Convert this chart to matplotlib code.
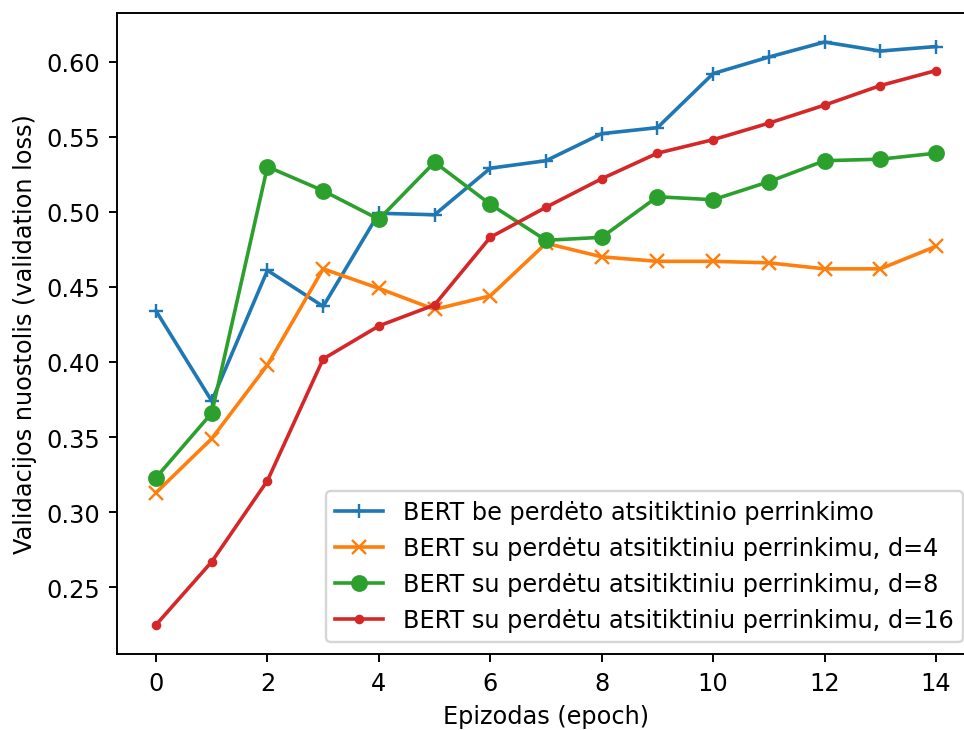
import matplotlib
matplotlib.use('Agg')
import matplotlib.pyplot as plt

# Epizodai
epochs = list(range(15))

# Validacijos nuostolis
be_perrinkimo = [0.434, 0.374, 0.461, 0.437, 0.499, 0.498, 0.529, 0.534, 0.552,
                 0.556, 0.592, 0.603, 0.613, 0.607, 0.610]
d4 = [0.313, 0.349, 0.398, 0.462, 0.449, 0.435, 0.444, 0.479, 0.470,
      0.467, 0.467, 0.466, 0.462, 0.462, 0.477]
d8 = [0.323, 0.366, 0.530, 0.514, 0.495, 0.533, 0.505, 0.481, 0.483,
      0.510, 0.508, 0.520, 0.534, 0.535, 0.539]
d16 = [0.225, 0.267, 0.321, 0.402, 0.424, 0.438, 0.483, 0.503, 0.522,
       0.539, 0.548, 0.559, 0.571, 0.584, 0.594]

labels = ['BERT be perdėto atsitiktinio perrinkimo',
          'BERT su perdėtu atsitiktiniu perrinkimu, d=4',
          'BERT su perdėtu atsitiktiniu perrinkimu, d=8',
          'BERT su perdėtu atsitiktiniu perrinkimu, d=16']

dpi = 173
fig = plt.figure(figsize=(964 / dpi, 731 / dpi), dpi=dpi)
# the right spine falls just outside the picture, as in the original crop
ax = fig.add_axes([0.1214, 0.104, 0.890, 0.877])

ax.plot(epochs, be_perrinkimo, marker='+', label=labels[0])
ax.plot(epochs, d4, marker='x', label=labels[1])
ax.plot(epochs, d8, marker='o', label=labels[2])
ax.plot(epochs, d16, marker='.', label=labels[3])

ax.set_xlabel('Epizodas (epoch)')
ax.set_ylabel('Validacijos nuostolis (validation loss)')
ax.legend(loc='lower right')

fig.savefig('out.png', dpi=dpi)
